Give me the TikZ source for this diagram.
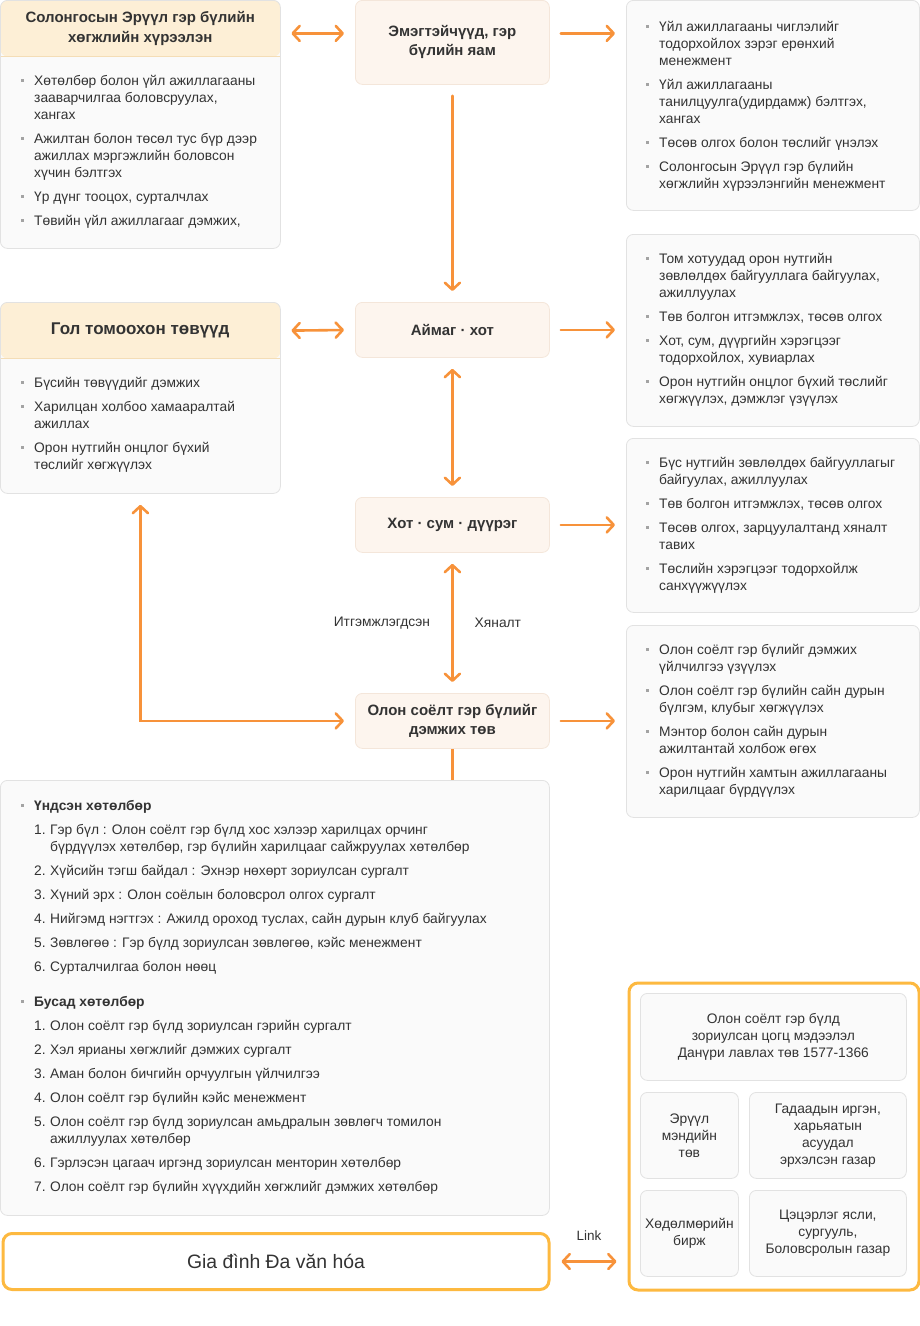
\documentclass[tikz,border=0pt]{standalone}
\usepackage{fontspec}
\setmainfont{Liberation Sans}
\usepackage{xcolor}
\usepackage{tikz}
\usetikzlibrary{positioning,arrows.meta}

\definecolor{arrowc}{HTML}{F7923A}
\definecolor{framec}{HTML}{FDB940}
\definecolor{headfill}{HTML}{FDEFD6}
\definecolor{headline}{HTML}{F4DDB6}
\definecolor{panelfill}{HTML}{FAFAFA}
\definecolor{panelline}{HTML}{E2E2E2}
\definecolor{stagefill}{HTML}{FDF5EE}
\definecolor{stageline}{HTML}{F4E6DA}
\definecolor{textc}{HTML}{333333}
\definecolor{bulletc}{HTML}{A3A3A3}

\newcommand{\bu}{\llap{\textcolor{bulletc}{\rule[3.5pt]{3pt}{3pt}}\hspace{10pt}}}
\newcommand{\nr}[1]{\makebox[16pt][l]{#1}}

\begin{document}
\begin{tikzpicture}[x=1pt, y=-1pt,
    font=\fontsize{13.8}{17}\selectfont, text=textc,
    >={Straight Barb[length=7pt,width=15pt,round]},
    panel/.style={draw=panelline, fill=panelfill, line width=0.8pt, rounded corners=7pt, anchor=north west, inner sep=0pt},
    headed/.style={panel, path picture={
        \fill[headfill] (path picture bounding box.north west) rectangle ([yshift=-56pt]path picture bounding box.north east);
        \draw[headline, line width=0.8pt] ([yshift=-56pt]path picture bounding box.north west) -- ([yshift=-56pt]path picture bounding box.north east);}},
    head/.style={anchor=north west, minimum width=280pt, minimum height=56pt, inner sep=0pt, align=center, font=\fontsize{15}{20}\selectfont\bfseries},
    stage/.style={draw=stageline, fill=stagefill, line width=0.8pt, rounded corners=7pt, anchor=north west, minimum width=194pt, minimum height=55pt, align=center, font=\fontsize{15}{19}\selectfont\bfseries},
    items/.style={anchor=north west, inner sep=0pt, align=left},
    frame/.style={draw=framec, fill=white, line width=3pt, rounded corners=9pt, anchor=north west, inner sep=0pt},
    cell/.style={panel, align=center},
    link/.style={draw=arrowc, line width=2.6pt, line cap=round},
    arr/.style={link, ->, shorten <=11pt, shorten >=11pt},
    biarr/.style={link, <->, shorten <=11pt, shorten >=11pt},
]
\useasboundingbox (0,0) rectangle (920,1326);

\node[headed, minimum width=280pt, minimum height=248pt] (boxA) at (0,0) {};
\node[head] (headA) at (0,0) {Солонгосын Эрүүл гэр бүлийн\\хөгжлийн хүрээлэн};
\node[items] (itemsA) at (34,75) {\bu Хөтөлбөр болон үйл ажиллагааны\\зааварчилгаа боловсруулах,\\хангах\\[7pt]
    \bu Ажилтан болон төсөл тус бүр дээр\\ажиллах мэргэжлийн боловсон\\хүчин бэлтгэх\\[7pt]
    \bu Үр дүнг тооцох, сурталчлах\\[7pt]
    \bu Төвийн үйл ажиллагааг дэмжих,};

\node[headed, minimum width=280pt, minimum height=191pt] (boxB) at (0,302) {};
\node[head, minimum height=55pt, font=\fontsize{17}{20}\selectfont\bfseries] (headB) at (0,303) {Гол томоохон төвүүд};
\node[items] (itemsB) at (34,377) {\bu Бүсийн төвүүдийг дэмжих\\[7pt]
    \bu Харилцан холбоо хамааралтай\\ажиллах\\[7pt]
    \bu Орон нутгийн онцлог бүхий\\төслийг хөгжүүлэх};

\node[stage, minimum height=84pt] (emeg) at (355,0) {Эмэгтэйчүүд, гэр\\бүлийн яам};
\node[stage] (aimag) at (355,302) {Аймаг · хот};
\node[stage] (khot) at (355,497) {Хот · сум · дүүрэг};
\node[stage] (olon) at (355,693) {Олон соёлт гэр бүлийг\\дэмжих төв};

\node[panel, minimum width=293pt, minimum height=210pt] (side1) at (626,0) {};
\node[items] (items1) at (659,21) {\bu Үйл ажиллагааны чиглэлийг\\тодорхойлох зэрэг ерөнхий\\менежмент\\[7pt]
    \bu Үйл ажиллагааны\\танилцуулга(удирдамж) бэлтгэх,\\хангах\\[7pt]
    \bu Төсөв олгох болон төслийг үнэлэх\\[7pt]
    \bu Солонгосын Эрүүл гэр бүлийн\\хөгжлийн хүрээлэнгийн менежмент};

\node[panel, minimum width=293pt, minimum height=192pt] (side2) at (626,234) {};
\node[items] (items2) at (659,253) {\bu Том хотуудад орон нутгийн\\зөвлөлдөх байгууллага байгуулах,\\ажиллуулах\\[7pt]
    \bu Төв болгон итгэмжлэх, төсөв олгох\\[7pt]
    \bu Хот, сум, дүүргийн хэрэгцээг\\тодорхойлох, хувиарлах\\[7pt]
    \bu Орон нутгийн онцлог бүхий төслийг\\хөгжүүлэх, дэмжлэг үзүүлэх};

\node[panel, minimum width=293pt, minimum height=174pt] (side3) at (626,438) {};
\node[items] (items3) at (659,457) {\bu Бүс нутгийн зөвлөлдөх байгууллагыг\\байгуулах, ажиллуулах\\[7pt]
    \bu Төв болгон итгэмжлэх, төсөв олгох\\[7pt]
    \bu Төсөв олгох, зарцуулалтанд хяналт\\тавих\\[7pt]
    \bu Төслийн хэрэгцээг тодорхойлж\\санхүүжүүлэх};

\node[panel, minimum width=293pt, minimum height=192pt] (side4) at (626,625) {};
\node[items] (items4) at (659,644) {\bu Олон соёлт гэр бүлийг дэмжих\\үйлчилгээ үзүүлэх\\[7pt]
    \bu Олон соёлт гэр бүлийн сайн дурын\\бүлгэм, клубыг хөгжүүлэх\\[7pt]
    \bu Мэнтор болон сайн дурын\\ажилтантай холбож өгөх\\[7pt]
    \bu Орон нутгийн хамтын ажиллагааны\\харилцааг бүрдүүлэх};

\node[panel, minimum width=549pt, minimum height=435pt] (prog) at (0,780) {};
\node[items] (progitems) at (34,800) {\bu\textbf{Үндсэн хөтөлбөр}\\[7pt]
    \nr{1.}Гэр бүл : Олон соёлт гэр бүлд хос хэлээр харилцах орчинг\\\hspace*{16pt}бүрдүүлэх хөтөлбөр, гэр бүлийн харилцааг сайжруулах хөтөлбөр\\[7pt]
    \nr{2.}Хүйсийн тэгш байдал : Эхнэр нөхөрт зориулсан сургалт\\[7pt]
    \nr{3.}Хүний эрх : Олон соёлын боловсрол олгох сургалт\\[7pt]
    \nr{4.}Нийгэмд нэгтгэх : Ажилд ороход туслах, сайн дурын клуб байгуулах\\[7pt]
    \nr{5.}Зөвлөгөө : Гэр бүлд зориулсан зөвлөгөө, кэйс менежмент\\[7pt]
    \nr{6.}Сурталчилгаа болон нөөц\\[18pt]
    \bu\textbf{Бусад хөтөлбөр}\\[7pt]
    \nr{1.}Олон соёлт гэр бүлд зориулсан гэрийн сургалт\\[7pt]
    \nr{2.}Хэл ярианы хөгжлийг дэмжих сургалт\\[7pt]
    \nr{3.}Аман болон бичгийн орчуулгын үйлчилгээ\\[7pt]
    \nr{4.}Олон соёлт гэр бүлийн кэйс менежмент\\[7pt]
    \nr{5.}Олон соёлт гэр бүлд зориулсан амьдралын зөвлөгч томилон\\\hspace*{16pt}ажиллуулах хөтөлбөр\\[7pt]
    \nr{6.}Гэрлэсэн цагаач иргэнд зориулсан менторин хөтөлбөр\\[7pt]
    \nr{7.}Олон соёлт гэр бүлийн хүүхдийн хөгжлийг дэмжих хөтөлбөр};

\node[frame, minimum width=546pt, minimum height=56pt, font=\fontsize{19.4}{23}\selectfont] (gia) at (1.5,1232) {Gia đình Đa văn hóa};

\node[frame, minimum width=290pt, minimum height=307pt] (cont) at (627.5,981.5) {};
\node[cell, minimum width=266pt, minimum height=87pt] (info) at (640,993) {Олон соёлт гэр бүлд\\зориулсан цогц мэдээлэл\\Данүри лавлах төв 1577-1366};
\node[cell, minimum width=98pt, minimum height=86pt] (health) at (640,1092) {Эрүүл\\мэндийн\\төв};
\node[cell, minimum width=157pt, minimum height=86pt] (foreign) at (749,1092) {Гадаадын иргэн,\\харьяатын\\асуудал\\эрхэлсэн газар};
\node[cell, minimum width=98pt, minimum height=86pt] (labour) at (640,1190) {Хөдөлмөрийн\\бирж};
\node[cell, minimum width=157pt, minimum height=86pt] (school) at (749,1190) {Цэцэрлэг ясли,\\сургууль,\\Боловсролын газар};

\draw[biarr] ([yshift=9pt]emeg.west) -- ([yshift=9pt]emeg.west -| headA.east);
\draw[arr] ([yshift=9pt]emeg.east) -- ([yshift=9pt]emeg.east -| side1.west);
\draw[arr] (emeg.south) -- (aimag.north);
\draw[biarr] (headB.east) -- (aimag.west);
\draw[arr] (aimag.east) -- (aimag.east -| side2.west);
\draw[biarr] (aimag.south) -- (khot.north);
\draw[arr] (khot.east) -- (khot.east -| side3.west);
\draw[biarr] (khot.south) -- (olon.north)
    node[midway, left=21pt, inner sep=0pt] {Итгэмжлэгдсэн}
    node[midway, right=21pt, inner sep=0pt] {Хяналт};
\draw[arr] (olon.east) -- (olon.east -| side4.west);
\draw[biarr] (boxB.south) |- (olon.west);
\draw[link, line cap=butt] (olon.south) -- (olon.south |- prog.north);
\draw[biarr] (gia.east) -- (gia.east -| cont.west)
    node[midway, above=20pt, inner sep=0pt, font=\fontsize{13.5}{15}\selectfont] {Link};
\end{tikzpicture}
\end{document}
